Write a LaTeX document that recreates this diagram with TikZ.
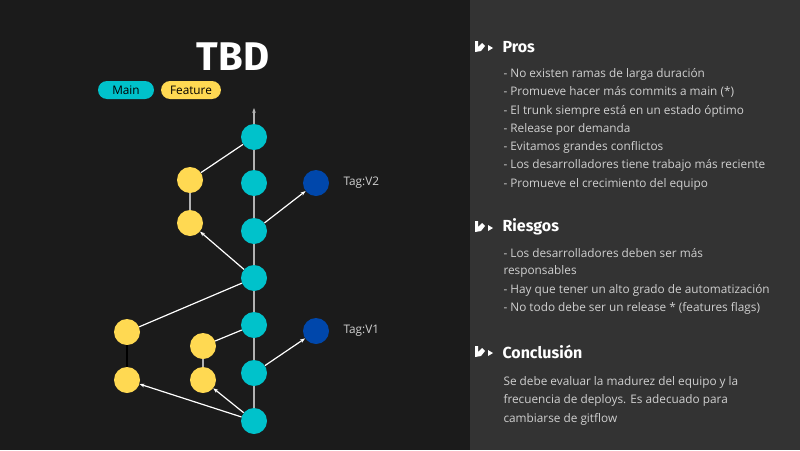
\documentclass[tikz,border=0pt]{standalone}
\usepackage{fontspec}
\setmainfont{Open Sans}
\newfontfamily\headfont{Fira Sans}
\usetikzlibrary{arrows.meta}
\definecolor{bgleft}{HTML}{1B1B1B}
\definecolor{bgright}{HTML}{333333}
\definecolor{mainc}{HTML}{00C2CB}
\definecolor{featc}{HTML}{FFD952}
\definecolor{tagc}{HTML}{0047AB}
\definecolor{txt}{HTML}{D0D0D0}
\tikzset{
  commit/.style={circle, minimum size=26pt, inner sep=0pt},
  maincommit/.style={commit, fill=mainc},
  featcommit/.style={commit, fill=featc},
  tagcommit/.style={commit, fill=tagc},
  link/.style={draw=white, line width=1.2pt},
  linkarrow/.style={link, -{Stealth[length=5pt]}},
  head/.style={anchor=west, text=white, font=\headfont\bfseries\fontsize{16}{18}\selectfont},
  item/.style={anchor=west, text=txt, font=\fontsize{11.8}{14}\selectfont},
  pill/.style={rounded corners=9pt, minimum height=18pt, inner xsep=9pt, font=\fontsize{11.8}{14}\selectfont, text=black}
}
\newcommand{\headicon}[1]{%
  \fill[white] (#1) ++(0,-7) -- ++(3,0) -- ++(0,6) -- ++(4,-4) -- ++(3,3) -- ++(-4,5) -- ++(-6,1) -- cycle;
  \fill[white] (#1) ++(13,-3) -- ++(5,3) -- ++(-5,3) -- cycle;
}
\begin{document}
\begin{tikzpicture}[x=1pt, y=-1pt]
\fill[bgleft] (0,0) rectangle (470,450);
\fill[bgright] (470,0) rectangle (800,450);
\useasboundingbox (0,0) rectangle (800,450);
% title and legend
\node[text=white, font=\headfont\bfseries\fontsize{40}{44}\selectfont] (title) at (233,57) {TBD};
\node[pill, fill=mainc, minimum width=56pt] (lmain) at (126,90) {Main};
\node[pill, fill=featc] (lfeat) at (191,90) {Feature};
% trunk
\coordinate (top) at (254,108);
\node[maincommit] (m1) at (254,137) {};
\node[maincommit] (m2) at (254,183) {};
\node[maincommit] (m3) at (254,231) {};
\node[maincommit] (m4) at (254,278) {};
\node[maincommit] (m5) at (254,325) {};
\node[maincommit] (m6) at (254,373) {};
\node[maincommit] (m7) at (254,421) {};
\draw[draw=gray!60, line width=1.6pt] (m7) -- (m6) -- (m5) -- (m4) -- (m3) -- (m2) -- (m1);
\draw[draw=gray!60, line width=1.6pt, -{Stealth[length=5pt]}] (m1) -- (top);
% features
\node[featcommit] (fa1) at (190,180) {};
\node[featcommit] (fa2) at (190,223) {};
\node[featcommit] (fb1) at (127,332) {};
\node[featcommit] (fb2) at (127,380) {};
\node[featcommit] (fc1) at (203,346) {};
\node[featcommit] (fc2) at (203,380) {};
% tags
\node[tagcommit] (v2) at (316,183) {};
\node[tagcommit] (v1) at (316,331) {};
\node[item] (v2label) at (340,183) {Tag:V2};
\node[item] (v1label) at (340,331) {Tag:V1};
% links
\draw[draw=gray!60, line width=1.4pt] (fa1) -- (fa2);
\draw[draw=black, line width=1.6pt] (fb1) -- (fb2);
\draw[draw=gray!60, line width=1.4pt] (fc1) -- (fc2);
\draw[link] (fa1) -- (m1);
\draw[link] (fb1) -- (m4);
\draw[link] (fc1) -- (m5);
\draw[linkarrow] (m4) -- (fa2);
\draw[linkarrow] (m3) -- (v2);
\draw[linkarrow] (m6) -- (v1);
\draw[linkarrow] (m7) -- (fc2);
\draw[linkarrow] (m7) -- (fb2);
% right panel
\headicon{475,48}
\node[head] (pros) at (499,47) {Pros};
\node[item] (p1) at (500,74) {- No existen ramas de larga duración};
\node[item] (p2) at (500,92) {- Promueve hacer más commits a main (*)};
\node[item] (p3) at (500,111) {- El trunk siempre está en un estado óptimo};
\node[item] (p4) at (500,129) {- Release por demanda};
\node[item] (p5) at (500,147) {- Evitamos grandes conflictos};
\node[item] (p6) at (500,165) {- Los desarrolladores tiene trabajo más reciente};
\node[item] (p7) at (500,184) {- Promueve el crecimiento del equipo};
\headicon{475,228}
\node[head] (riesgos) at (499,227) {Riesgos};
\node[item] (r1) at (500,253) {- Los desarrolladores deben ser más};
\node[item] (r2) at (500,271) {responsables};
\node[item] (r3) at (500,290) {- Hay que tener un alto grado de automatización};
\node[item] (r4) at (500,308) {- No todo debe ser un release * (features flags)};
\headicon{475,353}
\node[head] (concl) at (499,352) {Conclusión};
\node[item] (c1) at (500,382) {Se debe evaluar la madurez del equipo y la};
\node[item] (c2) at (500,400) {frecuencia de deploys. Es adecuado para};
\node[item] (c3) at (500,419) {cambiarse de gitflow};
\end{tikzpicture}
\end{document}
